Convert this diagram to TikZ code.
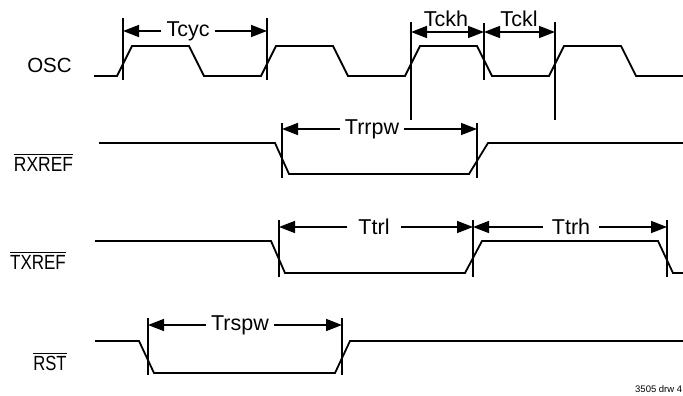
\documentclass[tikz,border=0pt]{standalone}
\usepackage{fontspec}
\usepackage{graphicx}
\setmainfont{Liberation Sans}
\usetikzlibrary{arrows.meta}

\newcommand{\sigbar}[2]{\scalebox{#1}[1]{\vbox{\hrule height 1pt \kern 2.5pt \hbox{#2}}}}

\begin{document}
\begin{tikzpicture}[x=1pt,y=-1pt,
    wave/.style={line width=1.8pt},
    markline/.style={line width=1.6pt},
    dimline/.style={line width=1.6pt, -{Triangle[length=16pt,width=12pt]}},
    dimboth/.style={line width=1.6pt, {Triangle[length=16pt,width=12pt]}-{Triangle[length=16pt,width=12pt]}},
    timelabel/.style={font=\fontsize{21.5}{24}\selectfont, inner xsep=5pt, inner ysep=0pt},
    siglabel/.style={font=\fontsize{20.5}{24}\selectfont}]
    \useasboundingbox (0,0) rectangle (683,396);

    % signal names
    \node [siglabel] (osc) at (49.5,65) {OSC};
    \node [siglabel] (rxref) at (43.5,163) {\sigbar{0.85}{RXREF}};
    \node [siglabel] (txref) at (38,261) {\sigbar{0.83}{TXREF}};
    \node [siglabel] (rst) at (50,362) {\sigbar{0.81}{RST}};

    % waveforms
    \draw [wave] (94,76) -- (117,76) -- (132,46) -- (189,46) -- (204,76) -- (261,76) -- (276,46) -- (333,46) -- (348,76) -- (405,76) -- (420,46) -- (477,46) -- (492,76) -- (549,76) -- (564,46) -- (621,46) -- (636,76) -- (683,76);
    \draw [wave] (99,143) -- (275,143) -- (289,174) -- (469,174) -- (488,143) -- (683,143);
    \draw [wave] (95,241) -- (271,241) -- (285,273) -- (465,273) -- (482,241) -- (658,241) -- (673,273) -- (683,273);
    \draw [wave] (95,341) -- (139,341) -- (154,373) -- (335,373) -- (350,341) -- (683,341);

    % Tcyc
    \draw [markline] (123,18) -- (123,80);
    \draw [markline] (267,18) -- (267,80);
    \node [timelabel] (tcyc) at (188,31) {Tcyc};
    \coordinate (tcycl) at (123,31);
    \coordinate (tcycr) at (267,31);
    \draw [dimline] (tcyc) -- (tcycl);
    \draw [dimline] (tcyc) -- (tcycr);

    % Tckh, Tckl
    \draw [markline] (411,22) -- (411,120);
    \draw [markline] (484,23) -- (484,80);
    \draw [markline] (555,22) -- (555,120);
    \coordinate (ckhl) at (411,32);
    \coordinate (ckhr) at (484,32);
    \coordinate (ckll) at (555,32);
    \draw [dimboth] (ckhl) -- (ckhr);
    \draw [dimboth] (ckhr) -- (ckll);
    \node [timelabel, anchor=base] (tckh) at (446,27) {Tckh};
    \node [timelabel, anchor=base] (tckl) at (519,27) {Tckl};

    % Trrpw
    \draw [markline] (282,123) -- (282,178);
    \draw [markline] (477,123) -- (477,178);
    \node [timelabel] (trrpw) at (372,129) {Trrpw};
    \coordinate (rrpwl) at (282,129);
    \coordinate (rrpwr) at (477,129);
    \draw [dimline] (trrpw) -- (rrpwl);
    \draw [dimline] (trrpw) -- (rrpwr);

    % Ttrl, Ttrh
    \draw [markline] (279,220) -- (279,277);
    \draw [markline] (473,220) -- (473,277);
    \draw [markline] (667,220) -- (667,277);
    \node [timelabel, inner xsep=11pt] (ttrl) at (374,227) {Ttrl};
    \node [timelabel, inner xsep=9pt] (ttrh) at (571,227) {Ttrh};
    \coordinate (trll) at (279,227);
    \coordinate (trlr) at (473,227);
    \coordinate (trhr) at (667,227);
    \draw [dimline] (ttrl) -- (trll);
    \draw [dimline] (ttrl) -- (trlr);
    \draw [dimline] (ttrh) -- (trlr);
    \draw [dimline] (ttrh) -- (trhr);

    % Trspw
    \draw [markline] (148,318) -- (148,375);
    \draw [markline] (342,318) -- (342,375);
    \node [timelabel] (trspw) at (240,325) {Trspw};
    \coordinate (rspwl) at (148,325);
    \coordinate (rspwr) at (342,325);
    \draw [dimline] (trspw) -- (rspwl);
    \draw [dimline] (trspw) -- (rspwr);

    \node [font=\fontsize{9.5}{11}\selectfont, anchor=west, inner sep=0pt] (drw) at (635,389) {3505 drw 4};
\end{tikzpicture}
\end{document}
